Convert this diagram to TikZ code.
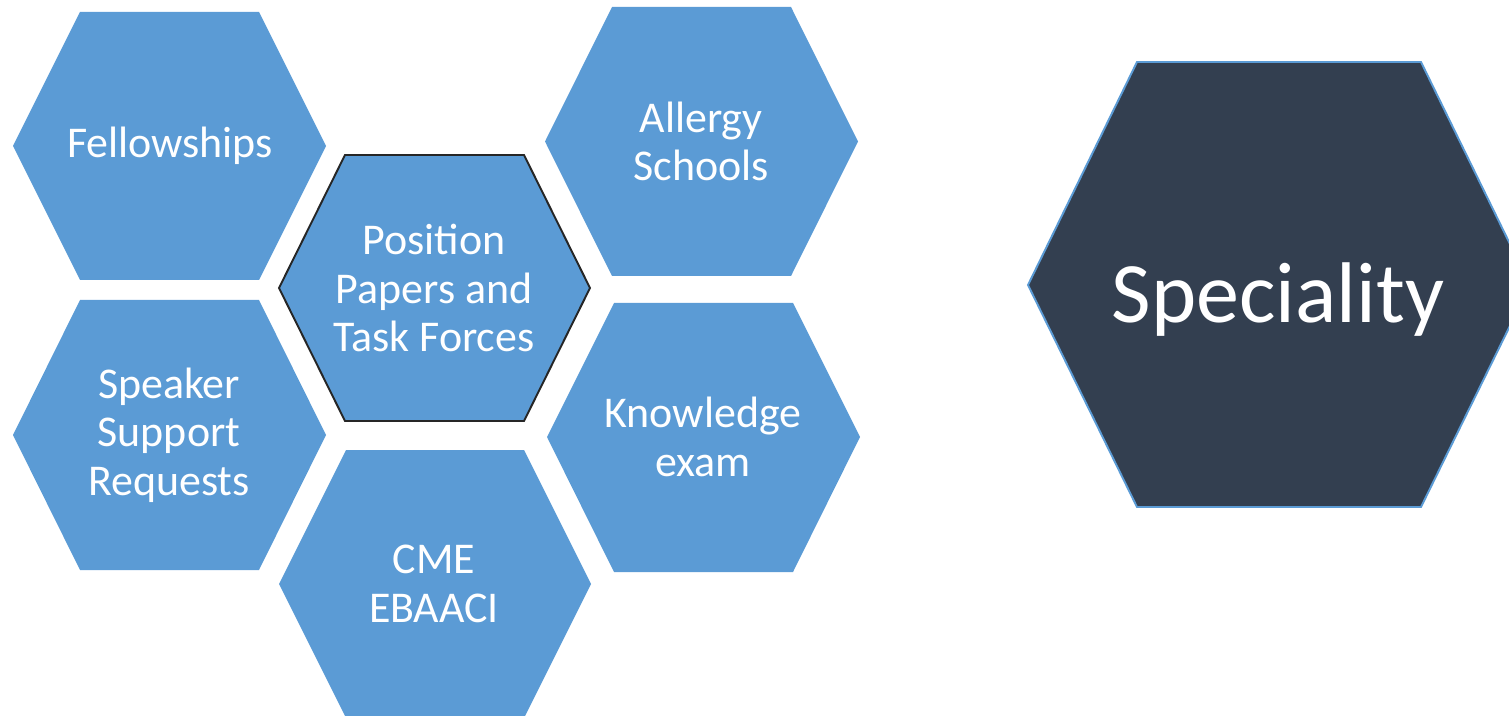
\documentclass[tikz,border=0pt]{standalone}
\usepackage{fontspec}
\setmainfont{Carlito}
\usepackage{xcolor}
\definecolor{hexblue}{HTML}{5B9BD5}
\definecolor{hexdark}{HTML}{333F50}
\definecolor{hexedge}{HTML}{262626}

\begin{document}
\begin{tikzpicture}[x=0.02cm, y=-0.02cm,
	hexlabel/.style={text=white, align=center, font=\fontsize{25}{27.6}\selectfont}]

	\clip (0,0) rectangle (1509,716);

	\fill[hexblue] (13,146) -- (80,12) -- (259,12) -- (326,146) -- (259,280) -- (80,280) -- cycle;
	\fill[hexblue] (545,141.5) -- (612,7) -- (791,7) -- (858,141.5) -- (791,276) -- (612,276) -- cycle;
	\fill[hexblue] (13,435) -- (80,300) -- (259,300) -- (326,435) -- (259,570) -- (80,570) -- cycle;
	\fill[hexblue] (547,437) -- (614,303) -- (793,303) -- (860,437) -- (793,572) -- (614,572) -- cycle;
	\fill[hexblue] (279,584) -- (346,450) -- (524,450) -- (591,584) -- (524,718) -- (346,718) -- cycle;
	\draw[hexedge, fill=hexblue, line width=1.1pt] (279,288) -- (345,155) -- (524,155) -- (590,288) -- (524,421) -- (345,421) -- cycle;

	\draw[hexblue, fill=hexdark, line width=1.1pt] (1028,285) -- (1137,62) -- (1421,62) -- (1530,285) -- (1421,507) -- (1137,507) -- cycle;

	\node[hexlabel] (fellow) at (170,146) {Fellowships};
	\node[hexlabel] (allergy) at (701,141.5) {Allergy\\Schools};
	\node[hexlabel] (position) at (434,288) {Position\\Papers and\\Task Forces};
	\node[hexlabel] (speaker) at (169,435) {Speaker\\Support\\Requests};
	\node[hexlabel] (knowledge) at (703,437) {Knowledge\\exam};
	\node[hexlabel] (cme) at (434,584) {CME\\EBAACI};
	\node[hexlabel, font=\fontsize{49}{54}\selectfont] (speciality) at (1278,300) {Speciality};

\end{tikzpicture}
\end{document}
